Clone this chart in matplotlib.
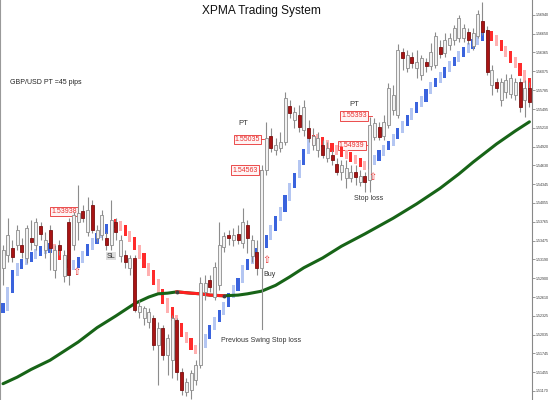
import matplotlib.pyplot as plt
from matplotlib import font_manager
from matplotlib.patches import Rectangle

# GBP/USD candles
opens = [1.5306, 1.5325, 1.5337, 1.5341, 1.5341, 1.5321, 1.5352, 1.5341, 1.5370, 1.5333,
         1.5364, 1.5303, 1.5341, 1.5294, 1.5376, 1.5341, 1.5376, 1.5393, 1.5361, 1.5402,
         1.5352, 1.5356, 1.5352, 1.5341, 1.5376, 1.5324, 1.5325, 1.5306, 1.5321, 1.5238,
         1.5229, 1.5223, 1.5229, 1.5187, 1.5214, 1.5172, 1.5164, 1.5226, 1.5146, 1.5115,
         1.5118, 1.5134, 1.5156, 1.5269, 1.5287, 1.5261, 1.5279, 1.5338, 1.5356, 1.5349,
         1.5358, 1.5344, 1.5371, 1.5324, 1.5330, 1.5306, 1.5456, 1.5509, 1.5487, 1.5490,
         1.5499, 1.5555, 1.5533, 1.5540, 1.5517, 1.5521, 1.5494, 1.5487, 1.5494, 1.5475,
         1.5479, 1.5466, 1.5453, 1.5444, 1.5444, 1.5453, 1.5438, 1.5447, 1.5441, 1.5506,
         1.5522, 1.5509, 1.5525, 1.5548, 1.5540, 1.5637, 1.5613, 1.5629, 1.5613, 1.5602,
         1.5622, 1.5616, 1.5617, 1.5645, 1.5635, 1.5648, 1.5656, 1.5659, 1.5659, 1.5668,
         1.5646, 1.5662, 1.5685, 1.5671, 1.5586, 1.5591, 1.5564, 1.5576, 1.5573, 1.5571,
         1.5591, 1.5564, 1.5582]
highs = [1.5341, 1.5383, 1.5349, 1.5371, 1.5352, 1.5371, 1.5379, 1.5383, 1.5376, 1.5361,
         1.5371, 1.5341, 1.5349, 1.5333, 1.5383, 1.5392, 1.5433, 1.5402, 1.5414, 1.5410,
         1.5371, 1.5395, 1.5361, 1.5410, 1.5383, 1.5356, 1.5333, 1.5325, 1.5325, 1.5256,
         1.5248, 1.5244, 1.5233, 1.5223, 1.5218, 1.5205, 1.5233, 1.5229, 1.5152, 1.5137,
         1.5149, 1.5164, 1.5292, 1.5295, 1.5295, 1.5315, 1.5376, 1.5361, 1.5364, 1.5367,
         1.5371, 1.5398, 1.5379, 1.5356, 1.5349, 1.5463, 1.5530, 1.5521, 1.5505, 1.5514,
         1.5576, 1.5564, 1.5552, 1.5556, 1.5564, 1.5533, 1.5521, 1.5514, 1.5502, 1.5499,
         1.5487, 1.5475, 1.5471, 1.5471, 1.5463, 1.5463, 1.5456, 1.5453, 1.5537, 1.5536,
         1.5530, 1.5540, 1.5589, 1.5586, 1.5650, 1.5644, 1.5640, 1.5637, 1.5640, 1.5632,
         1.5628, 1.5651, 1.5668, 1.5656, 1.5666, 1.5666, 1.5679, 1.5694, 1.5680, 1.5674,
         1.5674, 1.5702, 1.5714, 1.5677, 1.5617, 1.5597, 1.5597, 1.5603, 1.5603, 1.5597,
         1.5597, 1.5594, 1.5591]
lows = [1.5279, 1.5315, 1.5315, 1.5333, 1.5321, 1.5313, 1.5333, 1.5333, 1.5349, 1.5321,
        1.5303, 1.5291, 1.5325, 1.5284, 1.5279, 1.5333, 1.5349, 1.5376, 1.5355, 1.5359,
        1.5346, 1.5349, 1.5333, 1.5333, 1.5349, 1.5315, 1.5306, 1.5295, 1.5238, 1.5229,
        1.5218, 1.5214, 1.5180, 1.5126, 1.5164, 1.5141, 1.5137, 1.5134, 1.5110, 1.5109,
        1.5105, 1.5126, 1.5152, 1.5256, 1.5269, 1.5256, 1.5272, 1.5330, 1.5341, 1.5340,
        1.5343, 1.5337, 1.5328, 1.5315, 1.5295, 1.5300, 1.5448, 1.5484, 1.5479, 1.5484,
        1.5494, 1.5536, 1.5521, 1.5514, 1.5509, 1.5499, 1.5487, 1.5476, 1.5475, 1.5468,
        1.5463, 1.5448, 1.5441, 1.5429, 1.5438, 1.5433, 1.5432, 1.5422, 1.5422, 1.5502,
        1.5502, 1.5502, 1.5521, 1.5540, 1.5536, 1.5610, 1.5607, 1.5613, 1.5598, 1.5594,
        1.5607, 1.5610, 1.5613, 1.5628, 1.5629, 1.5640, 1.5648, 1.5653, 1.5653, 1.5650,
        1.5640, 1.5659, 1.5663, 1.5602, 1.5571, 1.5576, 1.5555, 1.5567, 1.5567, 1.5564,
        1.5545, 1.5537, 1.5552]
closes = [1.5333, 1.5356, 1.5322, 1.5364, 1.5330, 1.5367, 1.5346, 1.5376, 1.5358, 1.5349,
          1.5337, 1.5333, 1.5333, 1.5325, 1.5295, 1.5387, 1.5390, 1.5383, 1.5395, 1.5364,
          1.5364, 1.5387, 1.5341, 1.5379, 1.5361, 1.5349, 1.5315, 1.5321, 1.5241, 1.5248,
          1.5244, 1.5238, 1.5187, 1.5214, 1.5172, 1.5198, 1.5229, 1.5146, 1.5118, 1.5131,
          1.5144, 1.5156, 1.5282, 1.5282, 1.5276, 1.5307, 1.5341, 1.5355, 1.5352, 1.5356,
          1.5349, 1.5376, 1.5352, 1.5349, 1.5306, 1.5456, 1.5505, 1.5490, 1.5494, 1.5499,
          1.5567, 1.5543, 1.5545, 1.5522, 1.5552, 1.5505, 1.5509, 1.5505, 1.5479, 1.5490,
          1.5471, 1.5453, 1.5463, 1.5459, 1.5453, 1.5445, 1.5447, 1.5438, 1.5525, 1.5528,
          1.5506, 1.5530, 1.5582, 1.5571, 1.5640, 1.5628, 1.5632, 1.5620, 1.5622, 1.5628,
          1.5616, 1.5637, 1.5662, 1.5634, 1.5656, 1.5659, 1.5674, 1.5689, 1.5674, 1.5656,
          1.5666, 1.5696, 1.5668, 1.5607, 1.5610, 1.5582, 1.5591, 1.5594, 1.5597, 1.5591,
          1.5552, 1.5582, 1.5560]

# XPMA value for every candle, and the stretches where it points down (red)
xpma = [1.5244, 1.5272, 1.5298, 1.5309, 1.5315, 1.5321, 1.5325, 1.5330, 1.5333, 1.5335,
        1.5338, 1.5330, 1.5322, 1.5315, 1.5310, 1.5310, 1.5318, 1.5328, 1.5338, 1.5347,
        1.5355, 1.5362, 1.5369, 1.5375, 1.5373, 1.5367, 1.5359, 1.5349, 1.5337, 1.5324,
        1.5310, 1.5298, 1.5284, 1.5269, 1.5255, 1.5241, 1.5229, 1.5217, 1.5204, 1.5194,
        1.5184, 1.5177, 1.5187, 1.5200, 1.5214, 1.5226, 1.5237, 1.5249, 1.5263, 1.5275,
        1.5287, 1.5306, 1.5315, 1.5325, 1.5333, 1.5341, 1.5353, 1.5367, 1.5382, 1.5395,
        1.5413, 1.5432, 1.5448, 1.5467, 1.5484, 1.5499, 1.5505, 1.5502, 1.5497, 1.5493,
        1.5488, 1.5485, 1.5482, 1.5478, 1.5474, 1.5470, 1.5465, 1.5461, 1.5468, 1.5474,
        1.5482, 1.5490, 1.5497, 1.5507, 1.5517, 1.5527, 1.5537, 1.5547, 1.5556, 1.5565,
        1.5576, 1.5587, 1.5594, 1.5602, 1.5610, 1.5619, 1.5626, 1.5634, 1.5640, 1.5646,
        1.5653, 1.5659, 1.5663, 1.5665, 1.5659, 1.5651, 1.5643, 1.5634, 1.5625, 1.5616,
        1.5605, 1.5594, 1.5583]
xpma_down = [(11, 14), (24, 41), (66, 77), (103, 112)]

# slow moving average (green), red where it turned flat/down
ma_idx = [0, 3, 6, 10, 13, 16, 20, 24, 28, 31, 33, 35, 37, 40, 42, 44, 47, 50, 52, 55,
          58, 61, 64, 68, 72, 77, 83, 88, 93, 97, 100, 105, 109, 112]
ma_val = [1.5128, 1.5138, 1.5150, 1.5164, 1.5178, 1.5192, 1.5214, 1.5232, 1.5251, 1.5261,
          1.5266, 1.5267, 1.5269, 1.5267, 1.5266, 1.5264, 1.5263, 1.5264, 1.5266, 1.5270,
          1.5279, 1.5292, 1.5306, 1.5321, 1.5339, 1.5358, 1.5382, 1.5404, 1.5428, 1.5450,
          1.5468, 1.5496, 1.5516, 1.5530]
ma_red = (37, 47)

y_ticks = [1.56940, 1.56650, 1.56365, 1.56075, 1.55785, 1.55495, 1.55210, 1.54920,
           1.54630, 1.54345, 1.54055, 1.53765, 1.53475, 1.53190, 1.52900, 1.52610,
           1.52325, 1.52035, 1.51745, 1.51455, 1.51170]

names = {f.name for f in font_manager.fontManager.ttflist}
narrow = "Liberation Sans Narrow" if "Liberation Sans Narrow" in names else "Liberation Sans"
plt.rcParams["font.family"] = [narrow, "DejaVu Sans"]

fig = plt.figure(figsize=(5.5, 4), dpi=100)
ax = fig.add_axes([0, 0, 532 / 550, 1])
ax.set_xlim(-0.64, 112.55)
ax.set_ylim(1.5103, 1.5717)

# XPMA dashes
for i, v in enumerate(xpma):
    down = any(a <= i <= b for a, b in xpma_down)
    prev = xpma[i - 1] if i > 0 else v
    lo = min(prev, v) - 0.0004
    hi = max(prev, v) + 0.0004
    if hi - lo < 0.0015:
        mid = (hi + lo) / 2
        lo, hi = mid - 0.00075, mid + 0.00075
    if down:
        col = "#ff2b2b" if i % 2 == 0 else "#ffb0b0"
    else:
        col = "#3a63dd" if i % 2 == 0 else "#b4c6f2"
    ax.add_patch(Rectangle((i - 0.33, lo), 0.66, hi - lo, facecolor=col,
                           edgecolor="none", zorder=2))

# moving average
ax.plot(ma_idx, ma_val, color="#176417", lw=2.2, solid_capstyle="round", zorder=3)
red_i = [k for k in range(len(ma_idx)) if ma_red[0] <= ma_idx[k] <= ma_red[1]]
ax.plot([ma_idx[k] for k in red_i], [ma_val[k] for k in red_i],
        color="#ff2020", lw=2.2, zorder=3)
ax.plot([ma_idx[red_i[0]], ma_idx[red_i[-1]]], [ma_val[red_i[0]], ma_val[red_i[-1]]],
        "o", color="#404040", ms=1.8, zorder=4)

# candles
for i in range(len(opens)):
    o, h, l, c = opens[i], highs[i], lows[i], closes[i]
    ax.vlines(i, l, h, color="#8c8c8c", lw=0.8, zorder=4)
    bot = min(o, c)
    ht = max(abs(c - o), 0.00012)
    if c >= o:
        ax.add_patch(Rectangle((i - 0.32, bot), 0.64, ht, facecolor="#f2f2f2",
                               edgecolor="#8c8c8c", lw=0.6, zorder=5))
    else:
        ax.add_patch(Rectangle((i - 0.32, bot), 0.64, ht, facecolor="#a81414",
                               edgecolor="#7a1010", lw=0.6, zorder=5))

# price labels
red = "#e83030"
box = dict(boxstyle="square,pad=0.15", facecolor="#fff4f4", edgecolor=red, lw=0.6)
for txt, xi, yv, xend in [("1.53938", 13.0, 1.5393, 15.8),
                          ("1.55035", 52.0, 1.5503, 55.5),
                          ("1.54563", 51.5, 1.5456, 55.0),
                          ("1.55393", 74.7, 1.5539, 78.5),
                          ("1.54939", 74.2, 1.5494, 77.5)]:
    ax.plot([xi + 2.5, xend], [yv, yv], color=red, lw=0.6, zorder=1)
    ax.text(xi, yv, txt, color=red, fontsize=5, ha="center", va="center",
            bbox=box, zorder=1)

ax.text(51.1, 1.5527, "PT", fontsize=5.5, color="#333333", ha="center", va="center")
ax.text(74.7, 1.5557, "PT", fontsize=5.5, color="#333333", ha="center", va="center")
for xi, yv in [(15.7, 1.5299), (56.0, 1.5318), (78.5, 1.5445)]:
    ax.text(xi, yv, "\u21e7", fontsize=7, color=red, ha="center", va="center",
            family="DejaVu Sans", zorder=6)
ax.text(23.0, 1.5324, "SL", fontsize=5, color="#333333", ha="center", va="center",
        bbox=dict(boxstyle="square,pad=0.1", facecolor="#dddddd", edgecolor="none"),
        zorder=6)
ax.text(55.4, 1.5295, "Buy", fontsize=5, color="#333333", ha="left", va="center", zorder=6)
ax.plot([55, 55], [lows[55], 1.5212], color="#8c8c8c", lw=0.8, zorder=4)
ax.text(55.0, 1.5195, "Previous Swing Stop loss", fontsize=5, color="#333333",
        ha="center", va="center")
ax.text(77.7, 1.5413, "Stop loss", fontsize=5, color="#333333", ha="center", va="center")
ax.text(1.5, 1.5590, "GBP/USD PT =45 pips", fontsize=5, color="#222222",
        ha="left", va="center")
fig.text(261 / 550, 1 - 11 / 400, "XPMA Trading System", fontsize=8.6,
         color="#111111", ha="center", va="center")

# axis: price scale on the right
ax.set_xticks([])
ax.yaxis.tick_right()
ax.set_yticks(y_ticks)
ax.set_yticklabels([f"{t:.5f}" for t in y_ticks])
ax.tick_params(axis="y", labelsize=2.6, labelcolor="#333333", color="#888888",
               length=2, width=0.6, pad=1)
for s in ["top", "bottom"]:
    ax.spines[s].set_visible(False)
ax.spines["right"].set_color("#888888")
ax.spines["left"].set_color("#999999")
ax.spines["right"].set_linewidth(0.8)

fig.savefig("out.png", dpi=100)
